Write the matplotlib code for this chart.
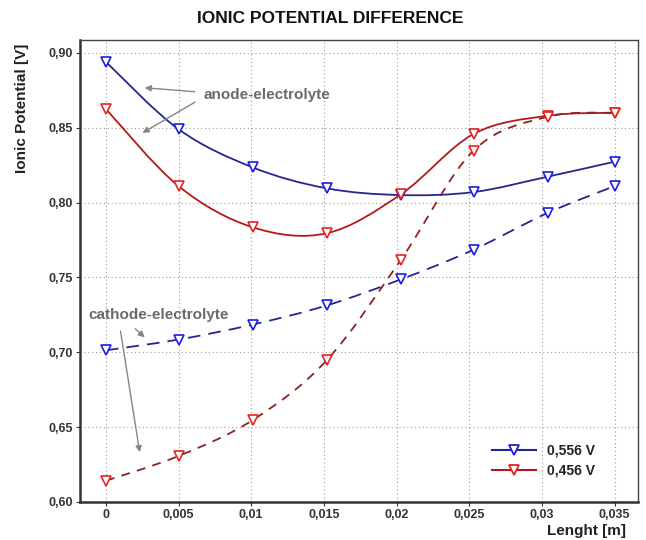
import matplotlib
matplotlib.use('Agg')
import matplotlib.pyplot as plt
from matplotlib.path import Path
from matplotlib.patches import PathPatch
import numpy as np

plt.rcParams.update({'font.family': ['Liberation Sans', 'DejaVu Sans']})

# data
length = [0.0, 0.0050, 0.0101, 0.0152, 0.0203, 0.0253, 0.0304, 0.0350]
anode_556 = [0.894, 0.849, 0.8235, 0.8095, 0.805, 0.807, 0.8173, 0.8273]
anode_456 = [0.8625, 0.811, 0.7835, 0.7795, 0.8055, 0.8458, 0.858, 0.860]
cathode_556 = [0.7013, 0.7085, 0.7185, 0.7313, 0.7487, 0.7685, 0.7931, 0.811]
cathode_456 = [0.6142, 0.6307, 0.6547, 0.6947, 0.7618, 0.8347, 0.8573, 0.860]
series_labels = ['0,556 V', '0,456 V']
xticks = [0, 0.005, 0.01, 0.015, 0.02, 0.025, 0.03, 0.035]
xticklabels = ['0', '0,005', '0,01', '0,015', '0,02', '0,025', '0,03', '0,035']
yticks = [0.60, 0.65, 0.70, 0.75, 0.80, 0.85, 0.90]
yticklabels = ['0,60', '0,65', '0,70', '0,75', '0,80', '0,85', '0,90']

BLUE_LINE, BLUE_MK = '#23278f', '#1c1ce6'
RED_LINE, RED_DASH, RED_MK = '#b3191c', '#8e2222', '#e82020'


def smooth_path(xs, ys):
    # Catmull-Rom curve through the points, drawn as cubic Bezier segments
    p = np.column_stack([xs, ys])
    p = np.vstack([p[0], p, p[-1]])
    verts = [p[1]]
    codes = [Path.MOVETO]
    for i in range(1, len(p) - 2):
        c1 = p[i] + (p[i + 1] - p[i - 1]) / 6
        c2 = p[i + 1] - (p[i + 2] - p[i]) / 6
        verts += [c1, c2, p[i + 1]]
        codes += [Path.CURVE4] * 3
    return Path(verts, codes)


fig = plt.figure(figsize=(6.46, 5.4), dpi=100)
ax = fig.add_axes([0.124, 0.0704, 0.864, 0.8556])
ax.set_xlim(-0.00177, 0.03663)
ax.set_ylim(0.60, 0.9086)

curves = [
    (anode_556, BLUE_LINE, BLUE_MK, '-'),
    (anode_456, RED_LINE, RED_MK, '-'),
    (cathode_556, BLUE_LINE, BLUE_MK, (0, (7, 4.5))),
    (cathode_456, RED_DASH, RED_MK, (0, (5, 4))),
]
for ys, lc, mc, ls in curves:
    ax.add_patch(PathPatch(smooth_path(length, ys), facecolor='none', edgecolor=lc,
                           lw=1.3, linestyle=ls, zorder=3))
    ax.plot(length, ys, linestyle='none', marker='v', ms=6.5, mfc='white', mec=mc,
            mew=1.2, zorder=4)

# legend handles
h1, = ax.plot([], [], color=BLUE_LINE, lw=1.5, marker='v', ms=7, mfc='white', mec=BLUE_MK, mew=1.3)
h2, = ax.plot([], [], color=RED_LINE, lw=1.5, marker='v', ms=7, mfc='white', mec=RED_MK, mew=1.3)
leg = ax.legend([h1, h2], series_labels, loc='lower left', bbox_to_anchor=(0.715, 0.025),
                frameon=False, handlelength=3.2, fontsize=10, labelspacing=0.45)
for t in leg.get_texts():
    t.set_fontweight('bold')
    t.set_color('#222222')

ax.set_xticks(xticks)
ax.set_xticklabels(xticklabels)
ax.set_yticks(yticks)
ax.set_yticklabels(yticklabels)
ax.tick_params(labelsize=9, colors='#333333', length=3, width=0.8, pad=2)
for lab in ax.get_xticklabels() + ax.get_yticklabels():
    lab.set_fontweight('bold')
ax.grid(True, linestyle=(0, (1, 2.5)), color='#9a9a9a', lw=0.8)

for side in ['left', 'bottom']:
    ax.spines[side].set_linewidth(1.8)
    ax.spines[side].set_color('#333333')
for side in ['top', 'right']:
    ax.spines[side].set_linewidth(1.0)
    ax.spines[side].set_color('#444444')

# annotations
ann_kw = dict(arrowprops=dict(arrowstyle='-|>', color='#858585', lw=1.0, mutation_scale=9))
ax.text(0.0067, 0.872, 'anode-electrolyte', fontsize=11, color='#6a6a6a', fontweight='bold',
        va='center', ha='left')
ax.annotate('', xy=(0.00248, 0.8768), xytext=(0.0063, 0.8739), **ann_kw)
ax.annotate('', xy=(0.00236, 0.8456), xytext=(0.0063, 0.868), **ann_kw)
ax.text(-0.00122, 0.7249, 'cathode-electrolyte', fontsize=11, color='#6a6a6a', fontweight='bold',
        va='center', ha='left')
ax.annotate('', xy=(0.00282, 0.7087), xytext=(0.00188, 0.7169), **ann_kw)
ax.annotate('', xy=(0.00236, 0.6314), xytext=(0.00098, 0.716), **ann_kw)

fig.text(0.511, 0.966, 'IONIC POTENTIAL DIFFERENCE', ha='center', va='center', fontsize=12.5,
         fontweight='bold', color='#111111')
fig.text(0.034, 0.80, 'Ionic Potential [V]', rotation=90, ha='center', va='center',
         fontsize=11, fontweight='bold', color='#222222')
fig.text(0.908, 0.004, 'Lenght [m]', ha='center', va='bottom', fontsize=11,
         fontweight='bold', color='#222222')

fig.savefig('out.png', dpi=100)
